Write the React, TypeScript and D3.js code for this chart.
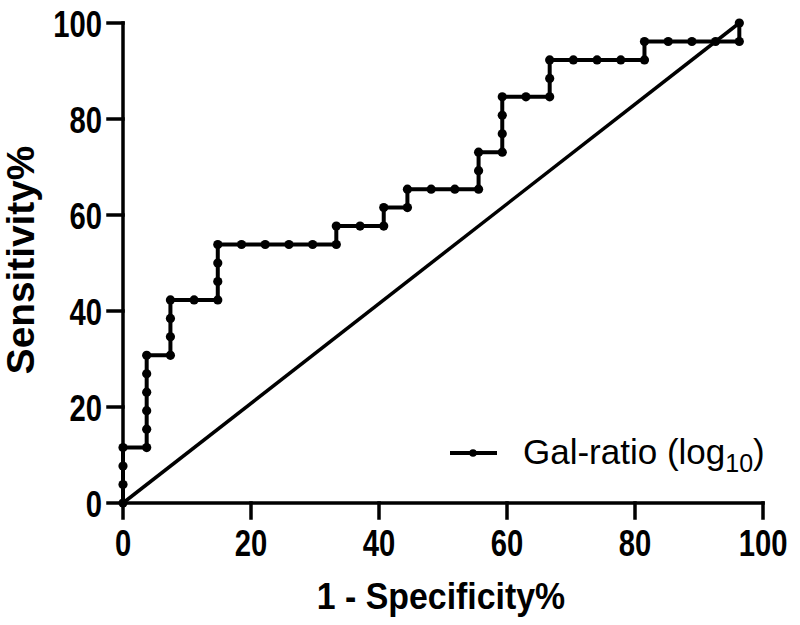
import React from "react";
import * as d3 from "d3";

// 1 - Specificity (%) and Sensitivity (%) of ROC points
const fprValues = [
  0, 0, 0, 0,
  3.7, 3.7, 3.7, 3.7, 3.7, 3.7,
  7.41, 7.41, 7.41, 7.41,
  11.11, 14.81, 14.81, 14.81, 14.81,
  18.52, 22.22, 25.93, 29.63, 33.33, 33.33,
  37.04, 40.74, 40.74,
  44.44, 44.44,
  48.15, 51.85, 55.56, 55.56, 55.56,
  59.26, 59.26, 59.26, 59.26,
  62.96, 66.67, 66.67, 66.67,
  70.37, 74.07, 77.78, 81.48, 81.48,
  85.19, 88.89, 92.59, 96.3, 96.3,
];
const sensValues = [
  0, 3.85, 7.69, 11.54,
  11.54, 15.38, 19.23, 23.08, 26.92, 30.77,
  30.77, 34.62, 38.46, 42.31,
  42.31, 42.31, 46.15, 50, 53.85,
  53.85, 53.85, 53.85, 53.85, 53.85, 57.69,
  57.69, 57.69, 61.54,
  61.54, 65.38,
  65.38, 65.38, 65.38, 69.23, 73.08,
  73.08, 76.92, 80.77, 84.62,
  84.62, 84.62, 88.46, 92.31,
  92.31, 92.31, 92.31, 92.31, 96.15,
  96.15, 96.15, 96.15, 96.15, 100,
];
const referenceLine = [
  [0, 0],
  [96.3, 100],
];
const xTicks = [0, 20, 40, 60, 80, 100];
const yTicks = [0, 20, 40, 60, 80, 100];
const xTitle = "1 - Specificity%";
const yTitle = "Sensitivity%";
const seriesName = "Gal-ratio (log";
const seriesSub = "10";

const FONT = "'Liberation Sans', Arial, Helvetica, sans-serif";

export default function App() {
  const x = d3.scaleLinear().domain([0, 100]).range([123, 763]);
  const y = d3.scaleLinear().domain([0, 100]).range([503, 23]);
  const pts: [number, number][] = fprValues.map((v, i) => [v, sensValues[i]]);
  const line = d3
    .line<[number, number]>()
    .x((d) => x(d[0]))
    .y((d) => y(d[1]));
  const tickLen = 15;
  const tickFont = 37;
  const tickScale = 0.79;

  return (
    <svg
      width={800}
      height={625}
      style={{ position: "absolute", left: 0, top: 0, background: "#fff" }}
      fontFamily={FONT}
    >
      <rect x={0} y={0} width={800} height={625} fill="#fff" />
      {/* reference diagonal */}
      <path
        d={line(referenceLine as [number, number][]) || ""}
        stroke="#000"
        strokeWidth={3.5}
        fill="none"
      />
      {/* ROC curve */}
      <path
        d={line(pts) || ""}
        stroke="#000"
        strokeWidth={4}
        fill="none"
        strokeLinejoin="miter"
      />
      {pts.map((d, i) => (
        <circle key={i} cx={x(d[0])} cy={y(d[1])} r={4.6} fill="#000" />
      ))}
      {/* axes */}
      <g stroke="#000" strokeWidth={3.5} strokeLinecap="square">
        <line x1={x(0)} x2={x(100)} y1={y(0)} y2={y(0)} />
        <line x1={x(0)} x2={x(0)} y1={y(0)} y2={y(100)} />
        {xTicks.map((t) => (
          <line key={"xt" + t} x1={x(t)} x2={x(t)} y1={y(0)} y2={y(0) + tickLen} />
        ))}
        {yTicks.map((t) => (
          <line key={"yt" + t} x1={x(0) - tickLen} x2={x(0)} y1={y(t)} y2={y(t)} />
        ))}
      </g>
      {xTicks.map((t) => (
        <text
          key={"xl" + t}
          transform={`translate(${x(t)},556) scale(${tickScale},1)`}
          textAnchor="middle"
          fontSize={tickFont}
          fontWeight="bold"
          fill="#000"
        >
          {t}
        </text>
      ))}
      {yTicks.map((t) => (
        <text
          key={"yl" + t}
          transform={`translate(102,${y(t) + 13.5}) scale(${tickScale},1)`}
          textAnchor="end"
          fontSize={tickFont}
          fontWeight="bold"
          fill="#000"
        >
          {t}
        </text>
      ))}
      <text
        transform={`translate(441,609) scale(0.915,1)`}
        textAnchor="middle"
        fontSize={37}
        fontWeight="bold"
        fill="#000"
      >
        {xTitle}
      </text>
      <text
        transform={`translate(34,260) rotate(-90) scale(1.02,1)`}
        textAnchor="middle"
        fontSize={38}
        fontWeight="bold"
        fill="#000"
      >
        {yTitle}
      </text>
      {/* legend */}
      <line x1={450} x2={497} y1={453} y2={453} stroke="#000" strokeWidth={4} />
      <circle cx={473} cy={453} r={3.8} fill="#000" />
      <text x={523} y={464} fontSize={35} fill="#000">
        {seriesName}
        <tspan fontSize={25} dy={8}>
          {seriesSub}
        </tspan>
        <tspan dy={-8}>)</tspan>
      </text>
    </svg>
  );
}
